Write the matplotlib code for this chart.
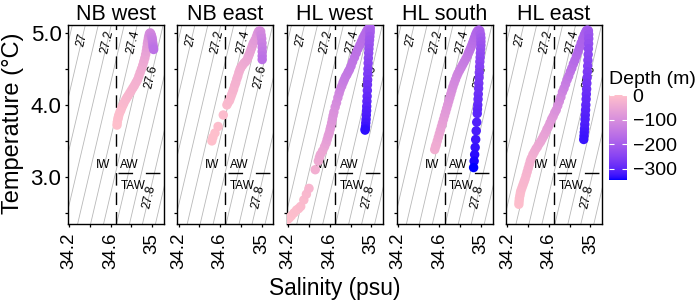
import numpy as np
import matplotlib
matplotlib.use('Agg')
import matplotlib.pyplot as plt
from matplotlib.colors import ListedColormap, Normalize
from matplotlib.cm import ScalarMappable

plt.rcParams['font.family'] = ['Liberation Sans', 'DejaVu Sans']

# ---- data: (salinity, temperature, depth) ----
stations = ['NB west', 'NB east', 'HL west', 'HL south', 'HL east']

nbw_obs = [
    (34.662, 3.72, -2), (34.665, 3.76, -3), (34.67, 3.80, -4), (34.675, 3.83, -5), (34.68, 3.86, -6),
    (34.69, 3.90, -8), (34.70, 3.93, -9), (34.71, 3.97, -11), (34.72, 4.00, -12), (34.73, 4.03, -14),
    (34.745, 4.07, -15), (34.757, 4.10, -17), (34.77, 4.13, -18), (34.785, 4.165, -20), (34.80, 4.20, -22),
    (34.815, 4.235, -24), (34.83, 4.27, -26), (34.845, 4.31, -28), (34.86, 4.35, -30), (34.873, 4.40, -32),
    (34.885, 4.45, -35), (34.898, 4.50, -38), (34.91, 4.55, -42), (34.92, 4.60, -46), (34.93, 4.65, -50),
    (34.938, 4.70, -55), (34.945, 4.75, -60), (34.95, 4.80, -66), (34.955, 4.85, -72), (34.96, 4.89, -78),
    (34.965, 4.93, -85), (34.97, 4.96, -92), (34.975, 4.99, -100), (34.983, 5.00, -106), (34.99, 4.98, -112),
    (34.995, 4.955, -118), (35.0, 4.93, -124), (35.003, 4.90, -130), (35.005, 4.87, -136),
    (35.008, 4.84, -142), (35.01, 4.81, -148), (35.013, 4.79, -153), (35.015, 4.77, -158)]

nbe_obs = [
    (34.52, 3.50, -2), (34.53, 3.55, -3), (34.55, 3.61, -4), (34.58, 3.70, -6), (34.63, 3.86, -9),
    (34.665, 4.00, -12), (34.675, 4.03, -13), (34.69, 4.06, -15), (34.70, 4.10, -17), (34.71, 4.14, -19),
    (34.72, 4.18, -21), (34.73, 4.22, -23), (34.74, 4.27, -25), (34.75, 4.31, -27), (34.76, 4.36, -29),
    (34.77, 4.40, -31), (34.78, 4.45, -33), (34.79, 4.49, -35), (34.80, 4.52, -37), (34.815, 4.55, -39),
    (34.83, 4.58, -41), (34.845, 4.60, -44), (34.86, 4.63, -47), (34.87, 4.67, -50), (34.88, 4.70, -53),
    (34.89, 4.74, -56), (34.90, 4.78, -60), (34.91, 4.82, -64), (34.92, 4.86, -68), (34.935, 4.90, -73),
    (34.95, 4.95, -78), (34.96, 4.99, -84), (34.97, 5.02, -90), (34.98, 5.03, -97), (34.99, 5.02, -105),
    (34.995, 4.97, -113), (35.0, 4.92, -121), (35.003, 4.86, -129), (35.005, 4.80, -137),
    (35.005, 4.74, -145), (35.005, 4.68, -153), (35.005, 4.63, -160)]

hlw_obs = [
    (34.19, 2.40, -2), (34.21, 2.43, -3), (34.23, 2.46, -4), (34.255, 2.50, -6), (34.28, 2.54, -7),
    (34.30, 2.56, -8), (34.32, 2.59, -10), (34.35, 2.68, -13), (34.375, 2.76, -16), (34.40, 2.84, -20),
    (34.46, 3.10, -35),
    (34.49, 3.22, -42), (34.50, 3.27, -45), (34.51, 3.31, -48), (34.53, 3.36, -51), (34.55, 3.42, -55),
    (34.565, 3.47, -60), (34.575, 3.52, -65), (34.585, 3.57, -69), (34.595, 3.61, -72), (34.603, 3.66, -75),
    (34.61, 3.70, -78), (34.618, 3.75, -82), (34.625, 3.80, -85), (34.632, 3.85, -89), (34.64, 3.90, -93),
    (34.652, 3.97, -98), (34.665, 4.03, -104), (34.678, 4.10, -110), (34.69, 4.16, -115), (34.70, 4.21, -120),
    (34.715, 4.26, -125), (34.728, 4.31, -130), (34.74, 4.35, -135), (34.752, 4.39, -137), (34.765, 4.42, -140),
    (34.778, 4.46, -143), (34.79, 4.49, -145), (34.805, 4.54, -148), (34.82, 4.60, -150), (34.838, 4.66, -153),
    (34.855, 4.72, -155), (34.872, 4.78, -158), (34.89, 4.83, -160), (34.905, 4.88, -163), (34.92, 4.93, -165),
    (34.935, 4.97, -168), (34.95, 5.01, -170), (34.962, 5.04, -174), (34.975, 5.06, -178), (34.99, 5.07, -185),
    (34.989, 5.03, -192), (34.988, 5.00, -198), (34.986, 4.95, -205), (34.983, 4.90, -212), (34.98, 4.84, -219),
    (34.977, 4.78, -226), (34.975, 4.72, -233), (34.972, 4.65, -241), (34.97, 4.58, -249), (34.968, 4.50, -257),
    (34.966, 4.43, -265), (34.965, 4.35, -272), (34.963, 4.28, -279), (34.962, 4.20, -286), (34.96, 4.12, -293),
    (34.958, 4.05, -299), (34.956, 3.98, -304), (34.955, 3.92, -309), (34.952, 3.86, -314), (34.95, 3.80, -318),
    (34.947, 3.75, -322), (34.945, 3.70, -326), (34.942, 3.67, -330), (34.94, 3.65, -333)]

hls_obs = [
    (34.555, 3.38, -35), (34.563, 3.42, -38), (34.57, 3.45, -40), (34.58, 3.50, -43), (34.59, 3.55, -46),
    (34.60, 3.60, -50), (34.61, 3.65, -54), (34.62, 3.70, -58), (34.63, 3.75, -62), (34.64, 3.80, -66),
    (34.65, 3.85, -70), (34.66, 3.90, -74), (34.67, 3.95, -78), (34.68, 4.00, -82), (34.69, 4.05, -86),
    (34.70, 4.10, -90), (34.71, 4.15, -94), (34.72, 4.20, -98), (34.73, 4.25, -102), (34.742, 4.30, -106),
    (34.755, 4.35, -110), (34.768, 4.40, -114), (34.78, 4.44, -118), (34.795, 4.48, -122), (34.81, 4.52, -126),
    (34.825, 4.56, -130), (34.84, 4.60, -134), (34.855, 4.64, -138), (34.87, 4.68, -142), (34.88, 4.72, -146),
    (34.89, 4.75, -150), (34.90, 4.785, -154), (34.91, 4.82, -158), (34.92, 4.86, -162), (34.93, 4.90, -166),
    (34.94, 4.94, -170), (34.95, 4.98, -174), (34.96, 5.01, -177), (34.97, 5.03, -180), (34.98, 5.04, -183),
    (34.99, 5.03, -186),
    (34.997, 4.98, -195), (35.0, 4.93, -203), (35.0, 4.88, -210), (35.0, 4.83, -217), (34.998, 4.78, -224),
    (34.995, 4.72, -231), (34.993, 4.66, -238), (34.99, 4.60, -245), (34.988, 4.53, -252), (34.985, 4.45, -259),
    (34.983, 4.38, -266), (34.98, 4.30, -272), (34.978, 4.23, -278), (34.975, 4.15, -284), (34.973, 4.08, -289),
    (34.97, 4.00, -294), (34.967, 3.94, -298), (34.965, 3.88, -302), (34.96, 3.76, -310), (34.955, 3.64, -317),
    (34.95, 3.52, -324), (34.945, 3.41, -330), (34.94, 3.31, -335), (34.935, 3.22, -340), (34.93, 3.13, -345)]

hle_obs = [
    (34.31, 2.62, -5), (34.312, 2.66, -6), (34.315, 2.70, -8), (34.32, 2.74, -9), (34.325, 2.78, -11),
    (34.33, 2.81, -12), (34.34, 2.85, -14), (34.35, 2.89, -16), (34.36, 2.93, -18), (34.37, 2.97, -20),
    (34.38, 3.02, -22), (34.39, 3.07, -24), (34.40, 3.12, -26), (34.41, 3.17, -28), (34.42, 3.22, -30),
    (34.43, 3.26, -32), (34.445, 3.31, -35), (34.46, 3.35, -38), (34.475, 3.39, -41), (34.49, 3.42, -44),
    (34.505, 3.46, -47), (34.52, 3.49, -50), (34.535, 3.53, -53), (34.55, 3.57, -56), (34.565, 3.61, -60),
    (34.58, 3.66, -64), (34.595, 3.70, -68), (34.61, 3.75, -72), (34.625, 3.80, -76), (34.64, 3.84, -80),
    (34.655, 3.89, -86), (34.67, 3.93, -92), (34.685, 3.99, -98), (34.70, 4.05, -105), (34.715, 4.11, -112),
    (34.73, 4.18, -120), (34.745, 4.23, -127), (34.76, 4.29, -133), (34.775, 4.35, -140), (34.79, 4.40, -146),
    (34.805, 4.46, -152), (34.82, 4.51, -158), (34.835, 4.57, -164), (34.85, 4.62, -170), (34.865, 4.68, -175),
    (34.88, 4.74, -179), (34.895, 4.80, -183), (34.91, 4.86, -186), (34.925, 4.92, -189), (34.94, 4.97, -192),
    (34.95, 5.00, -195), (34.96, 5.03, -198), (34.97, 5.04, -202), (34.98, 5.03, -207),
    (34.983, 4.98, -215), (34.983, 4.92, -222), (34.982, 4.85, -229), (34.98, 4.78, -236), (34.978, 4.70, -243),
    (34.975, 4.62, -250), (34.973, 4.54, -257), (34.97, 4.46, -263), (34.968, 4.38, -269), (34.965, 4.30, -275),
    (34.963, 4.22, -281), (34.96, 4.15, -287), (34.958, 4.08, -292), (34.955, 4.00, -297), (34.953, 3.93, -302),
    (34.95, 3.86, -306), (34.948, 3.80, -310), (34.945, 3.73, -314), (34.943, 3.67, -318), (34.94, 3.62, -321),
    (34.938, 3.57, -324), (34.935, 3.52, -327)]

nbw_sal, nbw_temp, nbw_depth = map(list, zip(*nbw_obs))
nbe_sal, nbe_temp, nbe_depth = map(list, zip(*nbe_obs))
hlw_sal, hlw_temp, hlw_depth = map(list, zip(*hlw_obs))
hls_sal, hls_temp, hls_depth = map(list, zip(*hls_obs))
hle_sal, hle_temp, hle_depth = map(list, zip(*hle_obs))

profiles = [(nbw_sal, nbw_temp, nbw_depth), (nbe_sal, nbe_temp, nbe_depth),
            (hlw_sal, hlw_temp, hlw_depth), (hls_sal, hls_temp, hls_depth),
            (hle_sal, hle_temp, hle_depth)]

# background isopycnals (linear fit to the contours in the figure)
sigma0, beta, alpha = 27.659, 0.8, 0.13
iso_levels = np.round(np.arange(26.5, 28.3, 0.1), 1)
iso_labels = ['27', '27.2', '27.4', '27.6', '27.8']
iso_label_vals = [27.0, 27.2, 27.4, 27.6, 27.8]
iso_label_temp = [4.90, 4.88, 4.88, 4.39, 2.72]

# water mass boundaries
iw_aw_sal = 34.65
aw_taw_temp = 3.05
wm_names = ['IW', 'AW', 'TAW']
wm_sal = [34.525, 34.785, 34.815]
wm_temp = [3.16, 3.16, 2.88]

depth_lim = (-345, 0)
depth_ticks = [0, -100, -200, -300]


def _lin(c):
    return np.where(c <= 0.04045, c / 12.92, ((c + 0.055) / 1.055) ** 2.4)


def _gam(c):
    return np.where(c <= 0.0031308, 12.92 * c, 1.055 * np.power(c, 1 / 2.4) - 0.055)


M = np.array([[0.4124, 0.3576, 0.1805], [0.2126, 0.7152, 0.0722], [0.0193, 0.1192, 0.9505]])
WHITE = M.sum(axis=1)


def to_lab(rgb):
    xyz = M @ _lin(np.asarray(rgb, float)) / WHITE
    d = 6 / 29
    f = np.where(xyz > d ** 3, np.cbrt(xyz), xyz / (3 * d ** 2) + 4 / 29)
    return np.array([116 * f[1] - 16, 500 * (f[0] - f[1]), 200 * (f[1] - f[2])])


def from_lab(lab):
    d = 6 / 29
    fy = (lab[0] + 16) / 116
    f = np.array([fy + lab[1] / 500, fy, fy - lab[2] / 200])
    xyz = np.where(f > d, f ** 3, 3 * d ** 2 * (f - 4 / 29)) * WHITE
    rgb = np.linalg.solve(M, xyz)
    return np.clip(_gam(np.clip(rgb, 0, None)), 0, 1)


# ggplot-like gradient low = blue, high = pink, interpolated in Lab
lab_lo = to_lab([0, 0, 1])
lab_hi = to_lab([1, 0.7529, 0.7961])
cmap = ListedColormap([from_lab(lab_lo + t * (lab_hi - lab_lo)) for t in np.linspace(0, 1, 256)])
norm = Normalize(*depth_lim)

W, H = 699, 307
fig = plt.figure(figsize=(W / 100, H / 100), dpi=100)

panel_left = [67.7, 177.3, 286.9, 396.5, 506.1]
panel_w, panel_top, panel_bot = 96, 25, 223.7

sg = np.linspace(33.8, 35.5, 300)
tg = np.linspace(2.0, 5.5, 100)
SS, TT = np.meshgrid(sg, tg)
SIG = sigma0 + beta * (SS - 35) - alpha * (TT - 4)

for i, name in enumerate(stations):
    ax = fig.add_axes([panel_left[i] / W, 1 - panel_bot / H, panel_w / W, (panel_bot - panel_top) / H])
    ax.set_xlim(34.187, 35.112)
    ax.set_ylim(2.35, 5.11)

    ax.contour(SS, TT, SIG, levels=iso_levels, colors='#b8b8b8', linewidths=0.6, zorder=1)

    for lab, val, t in zip(iso_labels, iso_label_vals, iso_label_temp):
        s = 35 + (val - sigma0 + alpha * (t - 4)) / beta
        p1 = ax.transData.transform((s, t))
        p2 = ax.transData.transform((s + alpha / beta * 0.5, t + 0.5))
        ang = np.degrees(np.arctan2(p2[1] - p1[1], p2[0] - p1[0]))
        ax.text(s, t, lab, fontsize=8.7, rotation=ang, rotation_mode='anchor',
                ha='center', va='center', zorder=2)

    ax.axvline(iw_aw_sal, color='black', lw=1.0, ls=(0, (9, 5)), zorder=2)
    ax.hlines(aw_taw_temp, iw_aw_sal + 0.025, 35.12, color='black', lw=1.0,
              ls=(0, (10.5, 9.2)), zorder=2)
    for wn, ws, wt in zip(wm_names, wm_sal, wm_temp):
        ax.text(ws, wt, wn, fontsize=8.5, ha='center', va='center', zorder=2)

    sal, temp, depth = profiles[i]
    ax.scatter(sal, temp, c=depth, cmap=cmap, norm=norm, s=46, linewidths=0, zorder=3)

    ax.set_xticks([34.2, 34.4, 34.6, 34.8, 35.0])
    ax.set_xticklabels(['34.2', '', '34.6', '', '35'], rotation=90, fontsize=13.5)
    ax.set_yticks([2.5, 3.0, 3.5, 4.0, 4.5, 5.0])
    if i == 0:
        ax.set_yticklabels(['', '3.0', '', '4.0', '', '5.0'], fontsize=16)
    else:
        ax.set_yticklabels([])
    ax.tick_params(direction='out', length=2.5, width=0.9, pad=2)
    ax.tick_params(axis='x', pad=4)
    for sp in ax.spines.values():
        sp.set_linewidth(1.0)
    ax.set_title(name, fontsize=15.5, pad=3.6)

fig.text(13 / W, 1 - 123 / H, 'Temperature (°C)', rotation=90, fontsize=17,
         ha='center', va='center')
fig.text(335 / W, 1 - 288 / H, 'Salinity (psu)', fontsize=16.4, ha='center', va='center')

cax = fig.add_axes([609 / W, 1 - 180 / H, 18 / W, 85 / H])
cb = fig.colorbar(ScalarMappable(norm=norm, cmap=cmap), cax=cax)
cb.outline.set_visible(False)
cb.set_ticks(depth_ticks)
cb.set_ticklabels(['0', '\u2212100', '\u2212200', '\u2212300'])
cax.tick_params(direction='in', length=3.5, width=0.8, color='white', left=True, right=True,
                labelsize=14, pad=4)
fig.text(609 / W, 1 - 84 / H, 'Depth (m)', fontsize=14, va='baseline')

fig.savefig('out.png', dpi=100)
